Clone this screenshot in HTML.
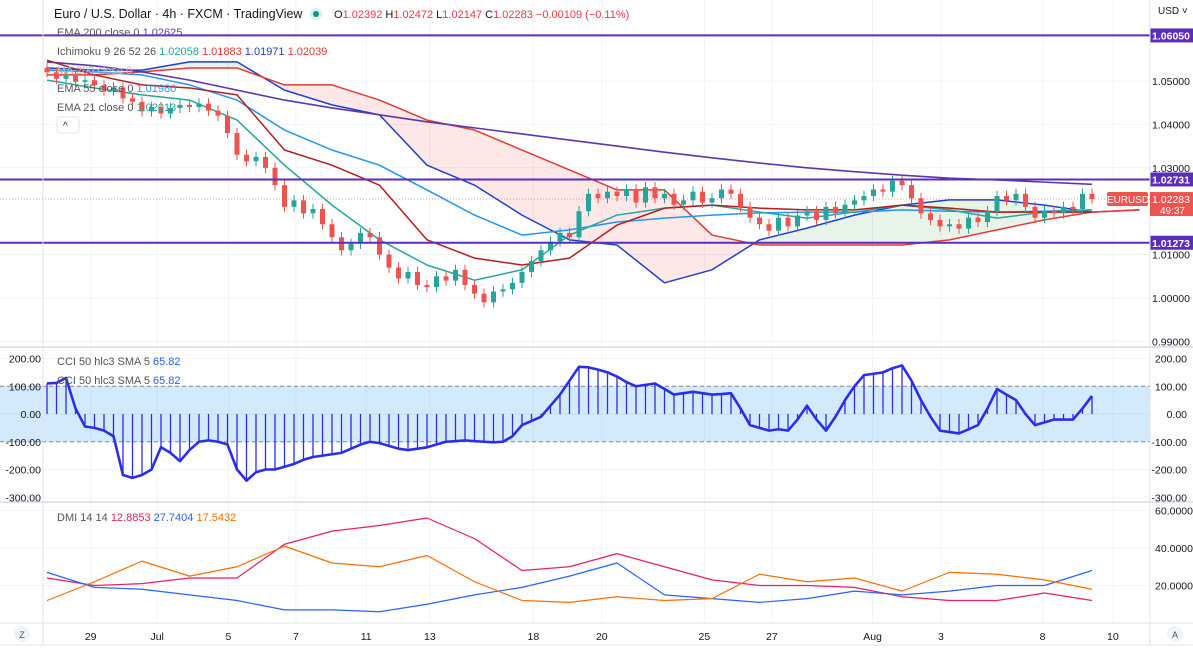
<!DOCTYPE html>
<html><head><meta charset="utf-8">
<style>
html,body{margin:0;padding:0;background:#fff;width:1193px;height:653px;overflow:hidden}
svg{display:block;font-family:"Liberation Sans",sans-serif}
</style></head>
<body>
<svg id="chart" width="1193" height="653" viewBox="0 0 1193 653" xmlns="http://www.w3.org/2000/svg">
<rect x="0" y="0" width="1193" height="653" fill="#fff"/>
<g id="grid"></g>
<g id="cloud"></g>
<g id="lines"></g>
<g id="candles"></g>
<g id="levels"></g>
<g id="cci"></g>
<g id="dmi"></g>
<g id="axes"></g>
<g id="legend" font-size="11">
  <text x="54" y="18" font-size="12.5" fill="#131722">Euro / U.S. Dollar · 4h · FXCM · TradingView</text>
  <circle cx="316" cy="14" r="6" fill="#d8f0ea"/><circle cx="316" cy="14" r="3" fill="#089981"/>
  <text x="334" y="18" font-size="11" fill="#f23645"><tspan fill="#131722">O</tspan>1.02392 <tspan fill="#131722">H</tspan>1.02472 <tspan fill="#131722">L</tspan>1.02147 <tspan fill="#131722">C</tspan>1.02283 −0.00109 (−0.11%)</text>
  <text x="57" y="36" fill="#555">EMA 200 close 0 <tspan fill="#673ab7">1.02625</tspan></text>
  <text x="57" y="55" fill="#555">Ichimoku 9 26 52 26 <tspan fill="#26a69a">1.02058</tspan> <tspan fill="#e53935">1.01883</tspan> <tspan fill="#1e40d0">1.01971</tspan> <tspan fill="#e53935">1.02039</tspan></text>
  <text x="57" y="74" fill="#bbb">MA 200 close 0</text>
  <text x="57" y="92" fill="#555">EMA 55 close 0 <tspan fill="#2196f3">1.01980</tspan></text>
  <text x="57" y="111" fill="#555">EMA 21 close 0 <tspan fill="#26a69a">1.02013</tspan></text>
  <rect x="57" y="117" width="22" height="16" rx="3" fill="#fff" stroke="#e0e3eb"/>
  <text x="63" y="129" fill="#131722" font-size="10">^</text>
  <text x="57" y="365" fill="#555">CCI 50 hlc3 SMA 5 <tspan fill="#2962ff">65.82</tspan></text>
  <text x="57" y="384" fill="#555">CCI 50 hlc3 SMA 5 <tspan fill="#2962ff">65.82</tspan></text>
  <text x="57" y="521" fill="#555">DMI 14 14 <tspan fill="#e91e63">12.8853</tspan> <tspan fill="#2962ff">27.7404</tspan> <tspan fill="#ff6d00">17.5432</tspan></text>
</g>
</svg>
<script>
// ---------- data ----------
const closes = [1.0520,1.0505,1.0512,1.0498,1.0502,1.0490,1.0478,1.0485,1.0460,1.0452,
1.0430,1.0440,1.0425,1.0438,1.0445,1.0440,1.0448,1.0432,1.0420,1.0380,
1.0330,1.0315,1.0325,1.0300,1.0260,1.0210,1.0225,1.0195,1.0205,1.0170,
1.0140,1.0110,1.0125,1.0150,1.0140,1.0100,1.0070,1.0045,1.0060,1.0030,
1.0025,1.0050,1.0040,1.0065,1.0030,1.0010,0.9990,1.0015,1.0020,1.0035,
1.0060,1.0085,1.0110,1.0130,1.0150,1.0140,1.0200,1.0240,1.0230,1.0245,
1.0235,1.0250,1.0220,1.0255,1.0230,1.0240,1.0215,1.0225,1.0245,1.0220,
1.0230,1.0250,1.0240,1.0210,1.0185,1.0170,1.0155,1.0185,1.0165,1.0190,
1.0200,1.0180,1.0210,1.0195,1.0215,1.0225,1.0235,1.0250,1.0245,1.0270,
1.0260,1.0230,1.0195,1.0180,1.0165,1.0170,1.0160,1.0185,1.0175,1.0200,
1.0235,1.0225,1.0240,1.0210,1.0185,1.0200,1.0195,1.0210,1.0205,1.0240,1.0228];
const firstOpen = 1.0530;
// indicator samples every 5 candles
const ema200 = [1.0544,1.0535,1.0521,1.0502,1.0479,1.0456,1.0438,1.0422,1.0406,1.0392,1.0378,1.0364,1.0350,1.0336,1.0323,1.0311,1.0300,1.0291,1.0283,1.0276,1.0272,1.0267,1.0262];
const ema55 = [1.0525,1.0521,1.0514,1.0491,1.0456,1.0387,1.0341,1.0306,1.0249,1.0191,1.0145,1.0157,1.0175,1.0184,1.0191,1.0196,1.0198,1.0198,1.0203,1.0200,1.0198,1.0200,1.0203];
const ema21 = [1.0502,1.0484,1.0468,1.0456,1.0410,1.0306,1.0214,1.0134,1.0076,1.0041,1.0065,1.0145,1.0191,1.0207,1.0214,1.0198,1.0184,1.0198,1.0214,1.0203,1.0184,1.0198,1.0203];
const kijun = [1.0548,1.0514,1.0491,1.0484,1.0468,1.0341,1.0306,1.0260,1.0134,1.0092,1.0076,1.0092,1.0168,1.0207,1.0214,1.0207,1.0203,1.0203,1.0214,1.0207,1.0198,1.0198,1.0198];
const spanA = [1.0530,1.0525,1.0525,1.0544,1.0544,1.0479,1.0445,1.0422,1.0306,1.0260,1.0191,1.0134,1.0122,1.0035,1.0065,1.0134,1.0161,1.0191,1.0214,1.0226,1.0226,1.0214,1.0198,1.0203];
const spanB = [1.0514,1.0514,1.0521,1.0530,1.0530,1.0491,1.0491,1.0456,1.0410,1.0387,1.0341,1.0295,1.0249,1.0249,1.0145,1.0122,1.0122,1.0122,1.0122,1.0134,1.0157,1.0180,1.0198,1.0203];
// CCI per candle
const cciVals = [110,112,130,20,-45,-50,-60,-80,-220,-230,
-220,-200,-120,-140,-170,-130,-100,-95,-100,-110,
-200,-240,-210,-200,-200,-190,-180,-165,-155,-150,
-145,-140,-125,-110,-100,-105,-115,-125,-130,-125,
-120,-110,-100,-98,-95,-98,-100,-102,-100,-80,
-40,-25,-10,30,70,120,170,168,160,150,
135,115,100,105,110,90,70,75,80,75,
70,72,75,20,-40,-50,-60,-55,-60,-20,
30,-20,-60,-10,50,100,140,145,150,165,
175,120,50,-10,-60,-65,-70,-55,-40,20,
90,70,50,0,-40,-30,-20,-20,-20,20,65];
// DMI every 5 candles
const adxPink = [24,20,21,24,24,42,49,52,56,45,28,30,37,30,23,20,20,19,14,12,12,16,12];
const diPlus = [27,19,18,15,12,7,7,6,10,15,19,25,32,15,13,11,13,17,15,17,20,20,28];
const diMinus = [12,22,33,25,30,41,32,30,36,22,12,11,14,12,13,26,22,24,17,27,26,23,18];
const priceTicks = [1.05,1.04,1.03,1.01,1.00,0.99];
const priceTickLabels = ["1.05000","1.04000","1.03000","1.01000","1.00000","0.99000"];
const levels = [1.0605,1.02731,1.01273];
const levelLabels = ["1.06050","1.02731","1.01273"];
const cciTicks = [200,100,0,-100,-200,-300];
const cciTickLabels = ["200.00","100.00","0.00","-100.00","-200.00","-300.00"];
const dmiTicks = [60,40,20];
const dmiTickLabels = ["60.0000","40.0000","20.0000"];
const timeLabels = ["29","Jul","5","7","11","13","18","20","25","27","Aug","3","8","10"];
const timeIdx = [4.6,11.6,19.1,26.2,33.6,40.3,51.2,58.4,69.2,76.3,86.9,94.1,104.8,112.2];

// ---------- scales ----------
const NS="http://www.w3.org/2000/svg";
const X0=47, STEP=9.5, RIGHT=1150;
const xi = i => X0 + i*STEP;
const yP = p => 81 + (1.05-p)*4340;
const yC = v => 414 - v*0.2775;
const yD = v => 623 - v*1.875;
function mk(tag, attrs, parent){const e=document.createElementNS(NS,tag);for(const k in attrs)e.setAttribute(k,attrs[k]);parent.appendChild(e);return e;}
const G = id => document.getElementById(id);

// grid
const grid=G('grid');
priceTicks.forEach(p=>{mk('line',{x1:0,x2:RIGHT,y1:yP(p),y2:yP(p),stroke:'#f0f3fa'},grid);});
cciTicks.forEach(v=>{mk('line',{x1:0,x2:RIGHT,y1:yC(v),y2:yC(v),stroke:'#f0f3fa'},grid);});
dmiTicks.forEach(v=>{mk('line',{x1:0,x2:RIGHT,y1:yD(v),y2:yD(v),stroke:'#f0f3fa'},grid);});
timeIdx.forEach(i=>{mk('line',{x1:xi(i),x2:xi(i),y1:0,y2:623,stroke:'#f0f3fa'},grid);});

// cloud
const cloud=G('cloud');
for(let k=0;k<spanA.length-1;k++){
  const a0=spanA[k],a1=spanA[k+1],b0=spanB[k],b1=spanB[k+1];
  const x0=xi(k*5),x1=xi((k+1)*5);
  const seg=mk('polygon',{points:`${x0},${yP(a0)} ${x1},${yP(a1)} ${x1},${yP(b1)} ${x0},${yP(b0)}`,fill:(a0+a1)>=(b0+b1)?'rgba(67,160,71,0.12)':'rgba(244,67,54,0.12)'},cloud);
  
  
}
function line(arr, parent, fy, color, w, name, step){
  const pts=arr.map((v,k)=>`${xi(k*step)},${fy(v)}`).join(' ');
  const pl=mk('polyline',{points:pts,fill:'none',stroke:color,'stroke-width':w,'stroke-linejoin':'round'},parent);
  
  
}
const L=G('lines');
line(spanA,L,yP,'#1e40d0',1.5,'senkou-span-a',5);
line(spanB,L,yP,'#e53935',1.5,'senkou-span-b',5);
line(ema200,L,yP,'#5e35b1',1.6,'ema-200',5);
line(ema55,L,yP,'#2196f3',1.5,'ema-55',5);
line(ema21,L,yP,'#26a69a',1.5,'ema-21',5);
line(kijun,L,yP,'#b71c1c',1.5,'kijun-line',5);

// candles
const C=G('candles');
closes.forEach((c,i)=>{
  const o = i===0?firstOpen:closes[i-1];
  const up=c>=o, col=up?'#26a69a':'#ef5350';
  const hi=Math.max(o,c)+0.0012, lo=Math.min(o,c)-0.0012;
  const x=xi(i);
  const w=mk('line',{x1:x,x2:x,y1:yP(hi),y2:yP(lo),stroke:col},C);
  
  
  const top=yP(Math.max(o,c)), h=Math.max(1,yP(Math.min(o,c))-top);
  const b=mk('rect',{x:x-2.5,y:top,width:5,height:h,fill:col},C);
  
  
});
const lastP=closes[closes.length-1];
mk('line',{x1:0,x2:RIGHT,y1:yP(lastP),y2:yP(lastP),stroke:'#ef5350','stroke-dasharray':'1 2','stroke-opacity':0.6},C);

// levels
const LV=G('levels');
levels.forEach((p,k)=>{
  const l=mk('line',{x1:0,x2:RIGHT,y1:yP(p),y2:yP(p),stroke:'#5b2dbd','stroke-width':2},LV);
  
  
  mk('rect',{x:RIGHT,y:yP(p)-7,width:43,height:14,fill:'#5b2dbd'},LV);
  const t=mk('text',{x:1190,y:yP(p)+4,'text-anchor':'end','font-size':10.5,fill:'#fff','font-weight':'bold'},LV);
  t.textContent=levelLabels[k];
  
  
});

// CCI
const CC=G('cci');
mk('rect',{x:0,y:yC(100),width:RIGHT,height:yC(-100)-yC(100),fill:'rgba(33,150,243,0.2)'},CC);
[100,-100].forEach(v=>mk('line',{x1:0,x2:RIGHT,y1:yC(v),y2:yC(v),stroke:'#888','stroke-dasharray':'4 3'},CC));
cciVals.forEach((v,k)=>{
  const x=xi(k);
  const b=mk('line',{x1:x,x2:x,y1:yC(0),y2:yC(v),stroke:'#2a2ee8','stroke-width':1.3},CC);
  
  
});
line(cciVals,CC,yC,'#2a2ee8',2.6,'cci-line',1);

// DMI
const D=G('dmi');
line(adxPink,D,yD,'#e91e63',1.2,'dmi-adx',5);
line(diPlus,D,yD,'#2962ff',1.2,'dmi-plus',5);
line(diMinus,D,yD,'#ff6d00',1.2,'dmi-minus',5);

// axes
const A=G('axes');
mk('rect',{x:RIGHT,y:0,width:43,height:653,fill:'none'},A);
mk('line',{x1:RIGHT,x2:RIGHT,y1:0,y2:645,stroke:'#e0e3eb'},A);
mk('line',{x1:0,x2:1193,y1:347,y2:347,stroke:'#e0e3eb','stroke-width':2},A);
mk('line',{x1:0,x2:1193,y1:502,y2:502,stroke:'#e0e3eb','stroke-width':2},A);
mk('line',{x1:0,x2:1193,y1:623,y2:623,stroke:'#e0e3eb'},A);
mk('line',{x1:0,x2:1193,y1:645,y2:645,stroke:'#e0e3eb'},A);
mk('line',{x1:43,x2:43,y1:0,y2:645,stroke:'#e0e3eb'},A);
function txt(s,x,y,anchor,size,col,name){const t=mk('text',{x:x,y:y,'text-anchor':anchor,'font-size':size,fill:col},A);t.textContent=s;return t;}
txt('USD ˅',1158,14,'start',10,'#131722','currency-selector');
priceTicks.forEach((p,k)=>txt(priceTickLabels[k],1190,yP(p)+4,'end',10.5,'#131722','price-tick'));
cciTicks.forEach((v,k)=>txt(cciTickLabels[k],1187,yC(v)+4,'end',10.5,'#131722','cci-tick'));
cciTicks.forEach((v,k)=>txt(cciTickLabels[k],41,yC(v)+4,'end',10.5,'#131722','cci-tick-left'));
dmiTicks.forEach((v,k)=>txt(dmiTickLabels[k],1193,yD(v)+4,'end',10.5,'#131722','dmi-tick'));
timeLabels.forEach((s,k)=>txt(s,xi(timeIdx[k]),640,'middle',10.5,'#131722','time-tick'));
mk('rect',{x:1107,y:yP(lastP)-7,width:41,height:14,rx:2,fill:'#ef5350'},A);
txt('EURUSD',1128,yP(lastP)+4,'middle',10,'#fff','symbol-badge');
mk('rect',{x:RIGHT,y:yP(lastP)-7,width:43,height:24,fill:'#ef5350'},A);
txt('1.02283',1190,yP(lastP)+4,'end',10.5,'#fff','last-price-label');
txt('49:37',1185,yP(lastP)+15,'end',10,'#fff','countdown-label');
mk('circle',{cx:22,cy:634,r:8,fill:'#f0f3fa'},A);
txt('Z',22,638,'middle',9,'#555','timezone-button');
mk('circle',{cx:1175,cy:634,r:8,fill:'#f0f3fa'},A);
txt('A',1175,638,'middle',9,'#555','auto-scale-button');
</script>
</body></html>
